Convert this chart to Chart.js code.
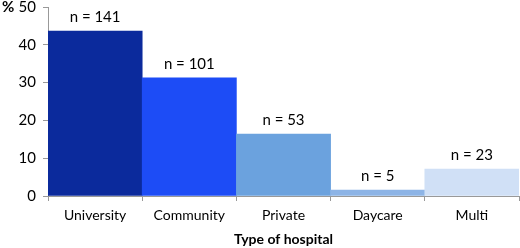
<!DOCTYPE html>
<html>
<head>
<meta charset="utf-8">
<script src="https://cdn.jsdelivr.net/npm/chart.js@4/dist/chart.umd.min.js"></script>
<style>
html,body{margin:0;padding:0;background:#fff;}
#wrap{width:520px;height:248px;position:relative;}
</style>
</head>
<body>
<div id="wrap"><canvas id="c" width="520" height="248"></canvas></div>
<script>
const categories = ["University", "Community", "Private", "Daycare", "Multi"];
const percentValues = [43.65, 31.27, 16.41, 1.55, 7.12];
const countLabels = ["n = 141", "n = 101", "n = 53", "n = 5", "n = 23"];
const yTicks = [0, 10, 20, 30, 40, 50];
const barColors = ["#0b2a9c", "#1d4cf6", "#6ba2de", "#8db4e6", "#d0e0f6"];

const FONT = "Lato, 'Open Sans', sans-serif";

const labelPlugin = {
  id: "nlabels",
  afterDatasetsDraw(chart) {
    const ctx = chart.ctx;
    const meta = chart.getDatasetMeta(0);
    ctx.save();
    ctx.font = "15px " + FONT;
    ctx.fillStyle = "#000";
    ctx.textAlign = "center";
    ctx.textBaseline = "bottom";
    meta.data.forEach((bar, i) => {
      ctx.fillText(countLabels[i], bar.x, bar.y - 6);
    });
    ctx.font = "bold 15px " + FONT;
    ctx.textAlign = "left";
    ctx.textBaseline = "middle";
    ctx.fillText("%", 2, chart.scales.y.getPixelForValue(50));
    ctx.restore();
  }
};

new Chart(document.getElementById("c"), {
  type: "bar",
  data: {
    labels: categories,
    datasets: [{
      data: percentValues,
      backgroundColor: barColors,
      borderWidth: 0,
      categoryPercentage: 1,
      barPercentage: 1
    }]
  },
  options: {
    responsive: false,
    animation: false,
    devicePixelRatio: 1,
    layout: { padding: { top: 7, right: 1, left: 0, bottom: 0 } },
    plugins: { legend: { display: false }, tooltip: { enabled: false } },
    scales: {
      x: {
        offset: true,
        grid: { offset: true, drawOnChartArea: false, drawTicks: true, tickLength: 5, color: "#999" },
        border: { color: "#999" },
        ticks: { font: { family: FONT, size: 14 }, color: "#000", padding: 6, maxRotation: 0 },
        title: { display: true, text: "Type of hospital", font: { family: FONT, size: 14, weight: "bold" }, color: "#000", padding: { top: 4, bottom: 0 } },
        afterFit(s) { s.height = 52; s.paddingLeft = 0; s.paddingRight = 0; }
      },
      y: {
        min: 0, max: 50,
        afterBuildTicks(s) { s.ticks = yTicks.map(v => ({ value: v })); },
        grid: { drawOnChartArea: false, drawTicks: true, tickLength: 5, color: "#999" },
        border: { color: "#999" },
        ticks: { font: { family: FONT, size: 15 }, color: "#000", padding: 7 },
        afterFit(s) { s.width = 48; s.paddingTop = 0; s.paddingBottom = 0; }
      }
    }
  },
  plugins: [labelPlugin]
});
</script>
</body>
</html>
